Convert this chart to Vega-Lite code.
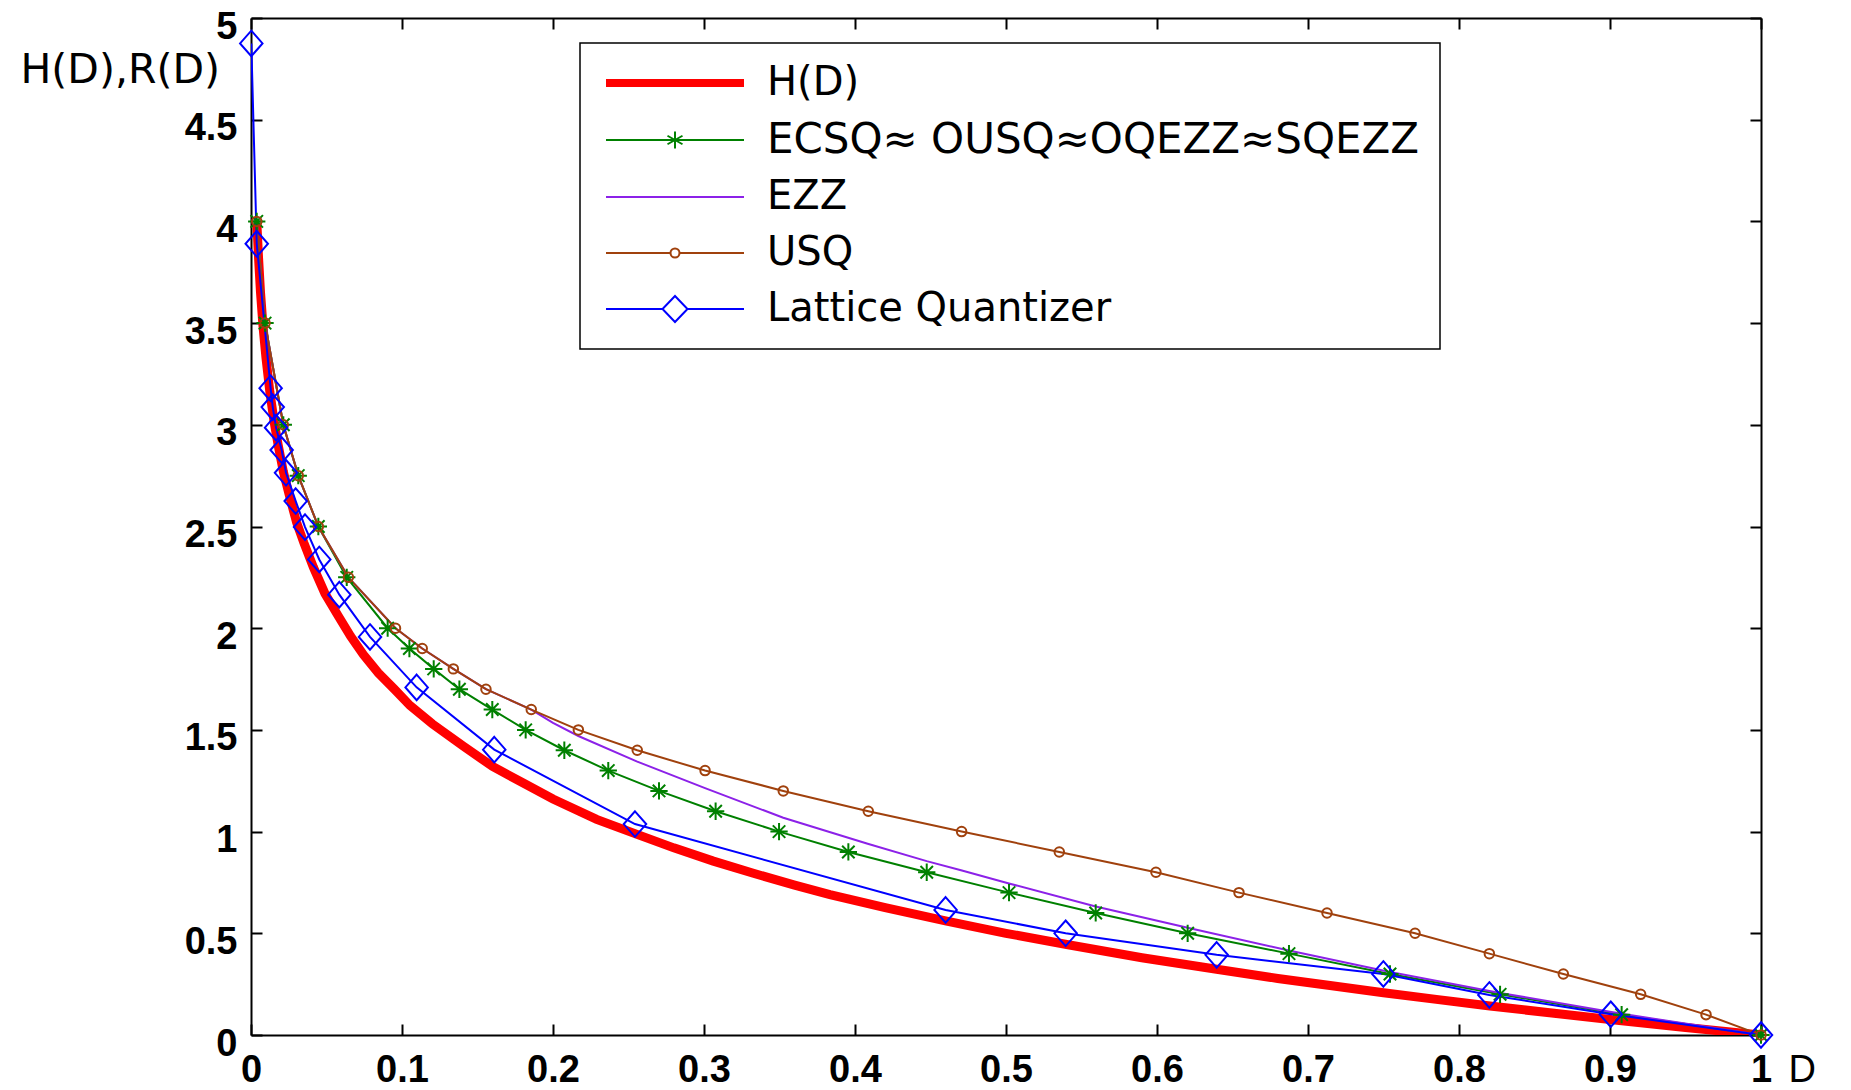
{
  "$schema": "https://vega.github.io/schema/vega-lite/v6.json",
  "width": 1510,
  "height": 1017,
  "autosize": {"type": "none"},
  "padding": {"left": 251, "top": 18, "right": 90, "bottom": 55},
  "background": "white",
  "config": {
    "view": {"stroke": null},
    "axis": {
      "grid": false, "domainColor": "black", "domainWidth": 2,
      "tickColor": "black", "tickWidth": 2, "tickSize": -11,
      "labelFont": "Liberation Sans", "labelFontWeight": "bold", "labelFontSize": 38, "labelColor": "black",
      "labelFlush": false, "labelOverlap": false, "labelBound": false,
      "titleFont": "DejaVu Sans", "titleFontWeight": "normal", "titleFontSize": 41, "titleColor": "black"
    }
  },
  "data": {"values": [
    {"series": "H(D)", "D": 0.0039, "R": 3.99},
    {"series": "H(D)", "D": 0.005, "R": 3.82},
    {"series": "H(D)", "D": 0.0063, "R": 3.65},
    {"series": "H(D)", "D": 0.008, "R": 3.48},
    {"series": "H(D)", "D": 0.0099, "R": 3.33},
    {"series": "H(D)", "D": 0.0125, "R": 3.16},
    {"series": "H(D)", "D": 0.0152, "R": 3.02},
    {"series": "H(D)", "D": 0.018, "R": 2.9},
    {"series": "H(D)", "D": 0.0214, "R": 2.77},
    {"series": "H(D)", "D": 0.0255, "R": 2.65},
    {"series": "H(D)", "D": 0.0302, "R": 2.52},
    {"series": "H(D)", "D": 0.035, "R": 2.42},
    {"series": "H(D)", "D": 0.0413, "R": 2.3},
    {"series": "H(D)", "D": 0.049, "R": 2.17},
    {"series": "H(D)", "D": 0.0578, "R": 2.06},
    {"series": "H(D)", "D": 0.066, "R": 1.96},
    {"series": "H(D)", "D": 0.0744, "R": 1.87},
    {"series": "H(D)", "D": 0.0843, "R": 1.78},
    {"series": "H(D)", "D": 0.095, "R": 1.7},
    {"series": "H(D)", "D": 0.1053, "R": 1.62},
    {"series": "H(D)", "D": 0.12, "R": 1.53},
    {"series": "H(D)", "D": 0.1406, "R": 1.42},
    {"series": "H(D)", "D": 0.16, "R": 1.32},
    {"series": "H(D)", "D": 0.18, "R": 1.24},
    {"series": "H(D)", "D": 0.2, "R": 1.16},
    {"series": "H(D)", "D": 0.2289, "R": 1.06},
    {"series": "H(D)", "D": 0.2543, "R": 0.99},
    {"series": "H(D)", "D": 0.28, "R": 0.92},
    {"series": "H(D)", "D": 0.3062, "R": 0.855},
    {"series": "H(D)", "D": 0.3327, "R": 0.795},
    {"series": "H(D)", "D": 0.36, "R": 0.737},
    {"series": "H(D)", "D": 0.3834, "R": 0.69},
    {"series": "H(D)", "D": 0.42, "R": 0.626},
    {"series": "H(D)", "D": 0.4607, "R": 0.56},
    {"series": "H(D)", "D": 0.5, "R": 0.5},
    {"series": "H(D)", "D": 0.5402, "R": 0.445},
    {"series": "H(D)", "D": 0.59, "R": 0.38},
    {"series": "H(D)", "D": 0.6395, "R": 0.323},
    {"series": "H(D)", "D": 0.68, "R": 0.278},
    {"series": "H(D)", "D": 0.7146, "R": 0.243},
    {"series": "H(D)", "D": 0.75, "R": 0.208},
    {"series": "H(D)", "D": 0.785, "R": 0.175},
    {"series": "H(D)", "D": 0.8205, "R": 0.143},
    {"series": "H(D)", "D": 0.86, "R": 0.109},
    {"series": "H(D)", "D": 0.9, "R": 0.076},
    {"series": "H(D)", "D": 0.95, "R": 0.037},
    {"series": "H(D)", "D": 1.0, "R": 0},

    {"series": "ECSQ≈ OUSQ≈OQEZZ≈SQEZZ", "D": 0.0038, "R": 4.0},
    {"series": "ECSQ≈ OUSQ≈OQEZZ≈SQEZZ", "D": 0.0093, "R": 3.5},
    {"series": "ECSQ≈ OUSQ≈OQEZZ≈SQEZZ", "D": 0.0214, "R": 3.0},
    {"series": "ECSQ≈ OUSQ≈OQEZZ≈SQEZZ", "D": 0.0313, "R": 2.75},
    {"series": "ECSQ≈ OUSQ≈OQEZZ≈SQEZZ", "D": 0.0446, "R": 2.5},
    {"series": "ECSQ≈ OUSQ≈OQEZZ≈SQEZZ", "D": 0.0634, "R": 2.25},
    {"series": "ECSQ≈ OUSQ≈OQEZZ≈SQEZZ", "D": 0.0905, "R": 2.0},
    {"series": "ECSQ≈ OUSQ≈OQEZZ≈SQEZZ", "D": 0.1049, "R": 1.9},
    {"series": "ECSQ≈ OUSQ≈OQEZZ≈SQEZZ", "D": 0.121, "R": 1.8},
    {"series": "ECSQ≈ OUSQ≈OQEZZ≈SQEZZ", "D": 0.138, "R": 1.7},
    {"series": "ECSQ≈ OUSQ≈OQEZZ≈SQEZZ", "D": 0.1598, "R": 1.6},
    {"series": "ECSQ≈ OUSQ≈OQEZZ≈SQEZZ", "D": 0.1819, "R": 1.5},
    {"series": "ECSQ≈ OUSQ≈OQEZZ≈SQEZZ", "D": 0.2075, "R": 1.4},
    {"series": "ECSQ≈ OUSQ≈OQEZZ≈SQEZZ", "D": 0.2366, "R": 1.3},
    {"series": "ECSQ≈ OUSQ≈OQEZZ≈SQEZZ", "D": 0.2702, "R": 1.2},
    {"series": "ECSQ≈ OUSQ≈OQEZZ≈SQEZZ", "D": 0.3077, "R": 1.1},
    {"series": "ECSQ≈ OUSQ≈OQEZZ≈SQEZZ", "D": 0.3497, "R": 1.0},
    {"series": "ECSQ≈ OUSQ≈OQEZZ≈SQEZZ", "D": 0.3956, "R": 0.9},
    {"series": "ECSQ≈ OUSQ≈OQEZZ≈SQEZZ", "D": 0.4475, "R": 0.8},
    {"series": "ECSQ≈ OUSQ≈OQEZZ≈SQEZZ", "D": 0.502, "R": 0.7},
    {"series": "ECSQ≈ OUSQ≈OQEZZ≈SQEZZ", "D": 0.5594, "R": 0.6},
    {"series": "ECSQ≈ OUSQ≈OQEZZ≈SQEZZ", "D": 0.6203, "R": 0.5},
    {"series": "ECSQ≈ OUSQ≈OQEZZ≈SQEZZ", "D": 0.6874, "R": 0.4},
    {"series": "ECSQ≈ OUSQ≈OQEZZ≈SQEZZ", "D": 0.7543, "R": 0.3},
    {"series": "ECSQ≈ OUSQ≈OQEZZ≈SQEZZ", "D": 0.8272, "R": 0.2},
    {"series": "ECSQ≈ OUSQ≈OQEZZ≈SQEZZ", "D": 0.9077, "R": 0.1},
    {"series": "ECSQ≈ OUSQ≈OQEZZ≈SQEZZ", "D": 1.0, "R": 0},

    {"series": "EZZ", "D": 0.0038, "R": 4.0},
    {"series": "EZZ", "D": 0.0093, "R": 3.5},
    {"series": "EZZ", "D": 0.0214, "R": 3.0},
    {"series": "EZZ", "D": 0.0313, "R": 2.75},
    {"series": "EZZ", "D": 0.0446, "R": 2.5},
    {"series": "EZZ", "D": 0.0645, "R": 2.25},
    {"series": "EZZ", "D": 0.0957, "R": 2.0},
    {"series": "EZZ", "D": 0.1134, "R": 1.9},
    {"series": "EZZ", "D": 0.134, "R": 1.8},
    {"series": "EZZ", "D": 0.1556, "R": 1.7},
    {"series": "EZZ", "D": 0.1856, "R": 1.6},
    {"series": "EZZ", "D": 0.2, "R": 1.535},
    {"series": "EZZ", "D": 0.2168, "R": 1.47},
    {"series": "EZZ", "D": 0.2554, "R": 1.345},
    {"series": "EZZ", "D": 0.3007, "R": 1.214},
    {"series": "EZZ", "D": 0.3525, "R": 1.068},
    {"series": "EZZ", "D": 0.4084, "R": 0.94},
    {"series": "EZZ", "D": 0.4475, "R": 0.855},
    {"series": "EZZ", "D": 0.4702, "R": 0.81},
    {"series": "EZZ", "D": 0.502, "R": 0.745},
    {"series": "EZZ", "D": 0.5594, "R": 0.632},
    {"series": "EZZ", "D": 0.6203, "R": 0.527},
    {"series": "EZZ", "D": 0.6874, "R": 0.415},
    {"series": "EZZ", "D": 0.7543, "R": 0.31},
    {"series": "EZZ", "D": 0.8272, "R": 0.207},
    {"series": "EZZ", "D": 0.9077, "R": 0.104},
    {"series": "EZZ", "D": 1.0, "R": 0},

    {"series": "USQ", "D": 0.0038, "R": 4.0},
    {"series": "USQ", "D": 0.0093, "R": 3.5},
    {"series": "USQ", "D": 0.0214, "R": 3.0},
    {"series": "USQ", "D": 0.0313, "R": 2.75},
    {"series": "USQ", "D": 0.0446, "R": 2.5},
    {"series": "USQ", "D": 0.0645, "R": 2.25},
    {"series": "USQ", "D": 0.0957, "R": 2.0},
    {"series": "USQ", "D": 0.1134, "R": 1.9},
    {"series": "USQ", "D": 0.134, "R": 1.8},
    {"series": "USQ", "D": 0.1556, "R": 1.7},
    {"series": "USQ", "D": 0.1856, "R": 1.6},
    {"series": "USQ", "D": 0.2168, "R": 1.5},
    {"series": "USQ", "D": 0.2558, "R": 1.4},
    {"series": "USQ", "D": 0.3007, "R": 1.3},
    {"series": "USQ", "D": 0.3525, "R": 1.2},
    {"series": "USQ", "D": 0.4088, "R": 1.1},
    {"series": "USQ", "D": 0.4706, "R": 1.0},
    {"series": "USQ", "D": 0.5353, "R": 0.9},
    {"series": "USQ", "D": 0.5993, "R": 0.8},
    {"series": "USQ", "D": 0.6543, "R": 0.7},
    {"series": "USQ", "D": 0.7126, "R": 0.6},
    {"series": "USQ", "D": 0.7709, "R": 0.5},
    {"series": "USQ", "D": 0.8201, "R": 0.4},
    {"series": "USQ", "D": 0.8691, "R": 0.3},
    {"series": "USQ", "D": 0.9203, "R": 0.2},
    {"series": "USQ", "D": 0.9636, "R": 0.1},
    {"series": "USQ", "D": 1.0, "R": 0},

    {"series": "Lattice Quantizer", "D": 0.0002, "R": 4.875},
    {"series": "Lattice Quantizer", "D": 0.0038, "R": 3.89},
    {"series": "Lattice Quantizer", "D": 0.013, "R": 3.18},
    {"series": "Lattice Quantizer", "D": 0.0144, "R": 3.087},
    {"series": "Lattice Quantizer", "D": 0.0166, "R": 2.986},
    {"series": "Lattice Quantizer", "D": 0.0203, "R": 2.876},
    {"series": "Lattice Quantizer", "D": 0.0232, "R": 2.764},
    {"series": "Lattice Quantizer", "D": 0.0296, "R": 2.625},
    {"series": "Lattice Quantizer", "D": 0.0358, "R": 2.497},
    {"series": "Lattice Quantizer", "D": 0.0452, "R": 2.338},
    {"series": "Lattice Quantizer", "D": 0.0585, "R": 2.165},
    {"series": "Lattice Quantizer", "D": 0.0788, "R": 1.957},
    {"series": "Lattice Quantizer", "D": 0.1097, "R": 1.709},
    {"series": "Lattice Quantizer", "D": 0.1611, "R": 1.403},
    {"series": "Lattice Quantizer", "D": 0.2543, "R": 1.037},
    {"series": "Lattice Quantizer", "D": 0.46, "R": 0.615},
    {"series": "Lattice Quantizer", "D": 0.5395, "R": 0.5},
    {"series": "Lattice Quantizer", "D": 0.6395, "R": 0.394},
    {"series": "Lattice Quantizer", "D": 0.7499, "R": 0.3},
    {"series": "Lattice Quantizer", "D": 0.8201, "R": 0.197},
    {"series": "Lattice Quantizer", "D": 0.9005, "R": 0.102},
    {"series": "Lattice Quantizer", "D": 1.0, "R": 0}
  ]},
  "resolve": {"axis": {"x": "independent", "y": "independent"}},
  "layer": [
    {
      "transform": [{"filter": "datum.series === 'H(D)'"}],
      "mark": {"type": "line", "strokeWidth": 9, "clip": true},
      "encoding": {
        "x": {"field": "D", "type": "quantitative",
          "scale": {"domain": [0, 1], "nice": false, "zero": false},
          "axis": {"orient": "bottom", "values": [0, 0.1, 0.2, 0.3, 0.4, 0.5, 0.6, 0.7, 0.8, 0.9, 1], "format": "~g",
            "labelPadding": 27, "title": "D", "titleX": 1537, "titleY": 46, "titleAlign": "left",
            "titleBaseline": "alphabetic", "titleAngle": 0, "titleFont": "Liberation Sans", "titleFontSize": 38}},
        "y": {"field": "R", "type": "quantitative",
          "scale": {"domain": [0, 5], "nice": false},
          "axis": {"orient": "left", "values": [0, 0.5, 1, 1.5, 2, 2.5, 3, 3.5, 4, 4.5, 5], "format": "~g",
            "labelPadding": 25, "labelOffset": 9, "title": "H(D),R(D)", "titleAngle": 0,
            "titleX": -231, "titleY": 64, "titleAlign": "left", "titleBaseline": "alphabetic"}},
        "color": {"field": "series", "type": "nominal",
          "scale": {"domain": ["H(D)", "ECSQ≈ OUSQ≈OQEZZ≈SQEZZ", "EZZ", "USQ", "Lattice Quantizer"],
                    "range": ["#FF0000", "#008000", "#8C21E8", "#A0410D", "#0000FF"]},
          "legend": {
            "orient": "none", "legendX": 329, "legendY": 25, "title": null, "direction": "vertical",
            "strokeColor": "black", "fillColor": "white", "padding": 20,
            "labelFont": "DejaVu Sans", "labelFontSize": 40, "labelColor": "black", "labelLimit": 1000,
            "symbolSize": 100, "symbolOffset": 55, "labelOffset": 72, "rowPadding": 16,
            "symbolStrokeWidth": 2,
            "encode": {
              "legend": {"update": {"strokeWidth": {"value": 1.5}}},
              "labels": {"update": {"fontSize": {"signal": "datum.index === 1 ? 42 : 40"}}},
              "symbols": {"update": {
                "shape": {"signal": "['M-13.8,0H13.8','M-13.8,0H13.8M0,-1.7V1.7M-1.5,-0.85L1.5,0.85M-1.5,0.85L1.5,-0.85','M-13.8,0H13.8','M-13.8,0H-0.9M0.9,0H13.8M0.9,0A0.9,0.9 0 1,1 -0.9,0A0.9,0.9 0 1,1 0.9,0','M-13.8,0H-2.5M2.5,0H13.8M0,-2.6L2.5,0L0,2.6L-2.5,0Z'][datum.index]"},
                "strokeWidth": {"signal": "datum.index === 0 ? 8 : 2"},
                "stroke": {"scale": "color", "field": "value"},
                "fill": {"value": "transparent"},
                "opacity": {"value": 1}
              }}
            }
          }}
      }
    },
    {
      "transform": [{"filter": "datum.series !== 'H(D)'"}],
      "mark": {"type": "line", "strokeWidth": 2, "clip": true},
      "encoding": {
        "x": {"field": "D", "type": "quantitative", "scale": {"domain": [0, 1], "nice": false, "zero": false}, "axis": null},
        "y": {"field": "R", "type": "quantitative", "scale": {"domain": [0, 5], "nice": false}, "axis": null},
        "color": {"field": "series", "type": "nominal",
          "scale": {"domain": ["H(D)", "ECSQ≈ OUSQ≈OQEZZ≈SQEZZ", "EZZ", "USQ", "Lattice Quantizer"],
                    "range": ["#FF0000", "#008000", "#8C21E8", "#A0410D", "#0000FF"]}}
      }
    },
    {
      "transform": [{"filter": "datum.series === 'ECSQ≈ OUSQ≈OQEZZ≈SQEZZ'"}],
      "mark": {"type": "point", "filled": false, "strokeWidth": 2, "size": 300, "opacity": 1,
               "shape": "M0,-1V1M-1,0H1M-0.72,-0.72L0.72,0.72M-0.72,0.72L0.72,-0.72"},
      "encoding": {
        "x": {"field": "D", "type": "quantitative", "scale": {"domain": [0, 1], "nice": false, "zero": false},
          "axis": {"orient": "top", "values": [0, 0.1, 0.2, 0.3, 0.4, 0.5, 0.6, 0.7, 0.8, 0.9, 1], "labels": false, "title": null}},
        "y": {"field": "R", "type": "quantitative", "scale": {"domain": [0, 5], "nice": false},
          "axis": {"orient": "right", "values": [0, 0.5, 1, 1.5, 2, 2.5, 3, 3.5, 4, 4.5, 5], "labels": false, "title": null}},
        "color": {"field": "series", "type": "nominal",
          "scale": {"domain": ["H(D)", "ECSQ≈ OUSQ≈OQEZZ≈SQEZZ", "EZZ", "USQ", "Lattice Quantizer"],
                    "range": ["#FF0000", "#008000", "#8C21E8", "#A0410D", "#0000FF"]}}
      }
    },
    {
      "transform": [{"filter": "datum.series === 'USQ'"}],
      "mark": {"type": "point", "filled": false, "strokeWidth": 2, "size": 90, "opacity": 1, "shape": "circle"},
      "encoding": {
        "x": {"field": "D", "type": "quantitative", "scale": {"domain": [0, 1], "nice": false, "zero": false}, "axis": null},
        "y": {"field": "R", "type": "quantitative", "scale": {"domain": [0, 5], "nice": false}, "axis": null},
        "color": {"field": "series", "type": "nominal",
          "scale": {"domain": ["H(D)", "ECSQ≈ OUSQ≈OQEZZ≈SQEZZ", "EZZ", "USQ", "Lattice Quantizer"],
                    "range": ["#FF0000", "#008000", "#8C21E8", "#A0410D", "#0000FF"]}}
      }
    },
    {
      "transform": [{"filter": "datum.series === 'Lattice Quantizer'"}],
      "mark": {"type": "point", "filled": false, "strokeWidth": 2, "size": 560, "opacity": 1,
               "shape": "M0,-1.08L0.95,0L0,1.08L-0.95,0Z"},
      "encoding": {
        "x": {"field": "D", "type": "quantitative", "scale": {"domain": [0, 1], "nice": false, "zero": false}, "axis": null},
        "y": {"field": "R", "type": "quantitative", "scale": {"domain": [0, 5], "nice": false}, "axis": null},
        "color": {"field": "series", "type": "nominal",
          "scale": {"domain": ["H(D)", "ECSQ≈ OUSQ≈OQEZZ≈SQEZZ", "EZZ", "USQ", "Lattice Quantizer"],
                    "range": ["#FF0000", "#008000", "#8C21E8", "#A0410D", "#0000FF"]}}
      }
    }
  ]
}
